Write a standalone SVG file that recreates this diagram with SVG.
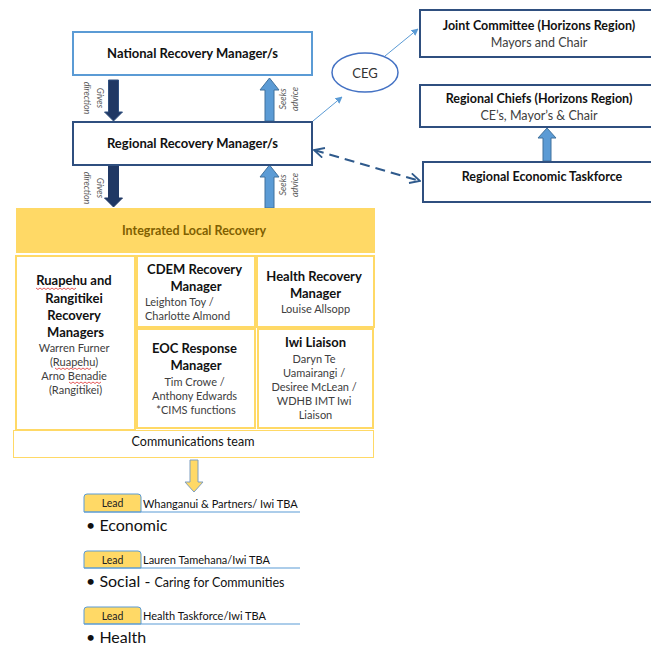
<svg xmlns="http://www.w3.org/2000/svg" width="651" height="646" viewBox="0 0 651 646">
<defs>
<style>
.t{font-family:Lato,"Liberation Sans",Arial,sans-serif;}
.b{font-weight:bold;fill:#111;}
.r{fill:#404040;}
.lbl{font-family:Lato,"Liberation Sans",Arial,sans-serif;font-style:italic;font-size:9px;fill:#595959;}
.box{fill:#fff;stroke-width:2;}
.cell{fill:#fff;stroke:#ffd966;stroke-width:2;}
.sq{fill:none;stroke:#e03030;stroke-width:0.8;}
.tab{fill:#ffd966;stroke:#5b9bd5;stroke-width:1;}
.ul{stroke:#5b9bd5;stroke-width:1.2;}
</style>
<marker id="tri" viewBox="0 0 10 10" refX="9" refY="5" markerWidth="7" markerHeight="7" orient="auto" markerUnits="userSpaceOnUse">
<path d="M0,0 L10,5 L0,10 z" fill="#5b9bd5"/>
</marker>
<marker id="chev" viewBox="0 0 12 12" refX="11" refY="6" markerWidth="12" markerHeight="12" orient="auto-start-reverse" markerUnits="userSpaceOnUse">
<path d="M1,1 L11,6 L1,11" fill="none" stroke="#2f5a8c" stroke-width="1.8"/>
</marker>
</defs>
<rect width="651" height="646" fill="#fff"/>

<g id="connectors">
<path d="M108.5,80 H118.5 V112 H122.5 L113.5,121 L104.5,112 H108.5 Z" fill="#203864" stroke="#2f4f7f" stroke-width="1"/>
<path d="M108.5,166 H118.5 V198 H122.5 L113.5,207 L104.5,198 H108.5 Z" fill="#203864" stroke="#203864" stroke-width="1"/>
<path d="M265,121 H274 V90 H279 L269.5,78 L260,90 H265 Z" fill="#5b9bd5" stroke="#41719c" stroke-width="1"/>
<path d="M265,208 H274 V177 H279 L269.5,165 L260,177 H265 Z" fill="#5b9bd5" stroke="#41719c" stroke-width="1"/>
<text class="lbl" transform="translate(97,98) rotate(90)" text-anchor="middle">Gives</text>
<text class="lbl" transform="translate(84,98) rotate(90)" text-anchor="middle">direction</text>
<text class="lbl" transform="translate(97,188) rotate(90)" text-anchor="middle">Gives</text>
<text class="lbl" transform="translate(84,188) rotate(90)" text-anchor="middle">direction</text>
<text class="lbl" transform="translate(286,99) rotate(-90)" text-anchor="middle">Seeks</text>
<text class="lbl" transform="translate(298,99) rotate(-90)" text-anchor="middle">advice</text>
<text class="lbl" transform="translate(286,185) rotate(-90)" text-anchor="middle">Seeks</text>
<text class="lbl" transform="translate(298,185) rotate(-90)" text-anchor="middle">advice</text>
<line x1="313" y1="121" x2="342" y2="97" stroke="#5b9bd5" stroke-width="1" marker-end="url(#tri)"/>
<line x1="385" y1="56" x2="418" y2="29" stroke="#5b9bd5" stroke-width="1" marker-end="url(#tri)"/>
<line x1="314" y1="150" x2="420" y2="181" stroke="#2f5a8c" stroke-width="2" stroke-dasharray="10,6" marker-start="url(#chev)" marker-end="url(#chev)"/>
<path d="M543,161 H551 V138 H556 L547,128 L538,138 H543 Z" fill="#5b9bd5" stroke="#41719c" stroke-width="1"/>
<path d="M190,460 H198 V482 H203 L194,492 L185,482 H190 Z" fill="#ffd966" stroke="#7f9fc0" stroke-width="1"/>
</g>

<g id="national">
<rect class="box" x="73" y="32" width="239" height="43" stroke="#5b9bd5"/>
<text class="t b" x="192.5" y="58" font-size="13" text-anchor="middle">National Recovery Manager/s</text>
</g>

<g id="regional">
<rect class="box" x="73" y="122" width="239" height="43" stroke="#2f4f7f"/>
<text class="t b" x="192.5" y="148" font-size="13" text-anchor="middle">Regional Recovery Manager/s</text>
</g>

<g id="ceg">
<ellipse cx="365" cy="72.5" rx="33" ry="19.5" fill="#fff" stroke="#4472c4" stroke-width="1.5"/>
<text class="t" x="365" y="77.5" font-size="13" text-anchor="middle" fill="#333">CEG</text>
</g>

<g id="joint">
<rect class="box" x="420" y="10" width="240" height="47" stroke="#2f4f7f"/>
<text class="t b" x="539" y="30" font-size="12.5" text-anchor="middle">Joint Committee (Horizons Region)</text>
<text class="t r" x="539" y="47" font-size="12.5" text-anchor="middle">Mayors and Chair</text>
</g>

<g id="chiefs">
<rect class="box" x="420" y="85" width="240" height="42" stroke="#2f4f7f"/>
<text class="t b" x="539" y="103" font-size="12.5" text-anchor="middle">Regional Chiefs (Horizons Region)</text>
<text class="t r" x="539" y="120" font-size="12.5" text-anchor="middle">CE’s, Mayor’s &amp; Chair</text>
</g>

<g id="taskforce">
<rect class="box" x="423" y="162" width="240" height="40" stroke="#2f4f7f"/>
<text class="t b" x="542" y="181" font-size="12.5" text-anchor="middle">Regional Economic Taskforce</text>
</g>

<g id="integrated">
<rect x="16" y="208" width="359" height="45" fill="#ffd966"/>
<text class="t" x="194" y="235" font-size="12.5" font-weight="bold" fill="#7f6000" text-anchor="middle">Integrated Local Recovery</text>
</g>

<g id="ruapehu">
<rect class="cell" x="16" y="256" width="119" height="174"/>
<text class="t b" font-size="13" text-anchor="middle">
<tspan x="75.5" y="285">Ruapehu and</tspan>
<tspan x="75.5" y="303">Rangitikei</tspan>
<tspan x="75.5" y="320">Recovery</tspan>
<tspan x="75.5" y="337">Managers</tspan>
</text>
<text class="t r" font-size="11" text-anchor="middle">
<tspan x="75.5" y="352">Warren Furner</tspan>
<tspan x="75.5" y="366">(Ruapehu)</tspan>
<tspan x="75.5" y="380">Arno Benadie</tspan>
<tspan x="75.5" y="394">(Rangitikei)</tspan>
</text>
<path class="sq" d="M36,288 l2,1.5 l2,-1.5 l2,1.5 l2,-1.5 l2,1.5 l2,-1.5 l2,1.5 l2,-1.5 l2,1.5 l2,-1.5 l2,1.5 l2,-1.5 l2,1.5 l2,-1.5 l2,1.5 l2,-1.5 l2,1.5 l2,-1.5 l2,1.5 l2,-1.5"/>
<path class="sq" d="M55,368 l2,1.5 l2,-1.5 l2,1.5 l2,-1.5 l2,1.5 l2,-1.5 l2,1.5 l2,-1.5 l2,1.5 l2,-1.5 l2,1.5 l2,-1.5 l2,1.5 l2,-1.5 l2,1.5 l2,-1.5 l2,1.5 l2,-1.5"/>
<path class="sq" d="M69,382 l2,1.5 l2,-1.5 l2,1.5 l2,-1.5 l2,1.5 l2,-1.5 l2,1.5 l2,-1.5 l2,1.5 l2,-1.5 l2,1.5 l2,-1.5 l2,1.5 l2,-1.5 l2,1.5 l2,-1.5"/>
</g>

<g id="cdem">
<rect class="cell" x="137" y="256" width="118" height="71"/>
<text class="t b" font-size="13" text-anchor="middle">
<tspan x="196" y="274">CDEM Recovery</tspan>
<tspan x="196" y="291">Manager</tspan>
</text>
<text class="t r" font-size="11">
<tspan x="145" y="306">Leighton Toy /</tspan>
<tspan x="145" y="320">Charlotte Almond</tspan>
</text>
</g>

<g id="health-mgr">
<rect class="cell" x="257" y="256" width="117" height="71"/>
<text class="t b" font-size="13" text-anchor="middle">
<tspan x="315.5" y="281">Health Recovery</tspan>
<tspan x="315.5" y="298">Manager</tspan>
</text>
<text class="t r" font-size="11" x="315.5" y="313" text-anchor="middle">Louise Allsopp</text>
</g>

<g id="eoc">
<rect class="cell" x="137" y="329" width="118" height="99"/>
<text class="t b" font-size="13" text-anchor="middle">
<tspan x="196" y="353">EOC Response</tspan>
<tspan x="196" y="370">Manager</tspan>
</text>
<text class="t r" font-size="11" text-anchor="middle">
<tspan x="196" y="386">Tim Crowe /</tspan>
<tspan x="196" y="400">Anthony Edwards</tspan>
<tspan x="196" y="414">*CIMS functions</tspan>
</text>
</g>

<g id="iwi">
<rect class="cell" x="258" y="329" width="115" height="99"/>
<text class="t b" font-size="13" x="315.5" y="347" text-anchor="middle">Iwi Liaison</text>
<text class="t r" font-size="11" text-anchor="middle">
<tspan x="315.5" y="363">Daryn Te</tspan>
<tspan x="315.5" y="377">Uamairangi /</tspan>
<tspan x="315.5" y="391">Desiree McLean /</tspan>
<tspan x="315.5" y="405">WDHB IMT Iwi</tspan>
<tspan x="315.5" y="419">Liaison</tspan>
</text>
</g>

<g id="comms">
<rect x="13.5" y="430.5" width="360" height="27" fill="#fff" stroke="#ffd966" stroke-width="1"/>
<text class="t" x="193" y="446" font-size="12.5" fill="#111" text-anchor="middle">Communications team</text>
</g>

<g id="economic">
<path class="tab" d="M84,512 V497 Q84,494 87,494 H138 Q141,494 141,497 V512 Z"/>
<line class="ul" x1="84" y1="512" x2="300" y2="512"/>
<text class="t" x="112.5" y="507" font-size="10.5" fill="#222" text-anchor="middle">Lead</text>
<text class="t" x="143" y="508" font-size="11" fill="#111">Whanganui &amp; Partners/ Iwi TBA</text>
<text class="t" x="86" y="531" font-size="16" fill="#111">• Economic</text>
</g>

<g id="social">
<path class="tab" d="M84,568 V554 Q84,551 87,551 H138 Q141,551 141,554 V568 Z"/>
<line class="ul" x1="84" y1="568" x2="300" y2="568"/>
<text class="t" x="112.5" y="564" font-size="10.5" fill="#222" text-anchor="middle">Lead</text>
<text class="t" x="143" y="564" font-size="11" fill="#111">Lauren Tamehana/Iwi TBA</text>
<text class="t" x="86" y="587" font-size="16" fill="#111">• Social - <tspan font-size="12.5">Caring for Communities</tspan></text>
</g>

<g id="health">
<path class="tab" d="M84,624 V610 Q84,607 87,607 H138 Q141,607 141,610 V624 Z"/>
<line class="ul" x1="84" y1="624" x2="300" y2="624"/>
<text class="t" x="112.5" y="620" font-size="10.5" fill="#222" text-anchor="middle">Lead</text>
<text class="t" x="143" y="620" font-size="11" fill="#111">Health Taskforce/Iwi TBA</text>
<text class="t" x="86" y="643" font-size="16" fill="#111">• Health</text>
</g>
</svg>
